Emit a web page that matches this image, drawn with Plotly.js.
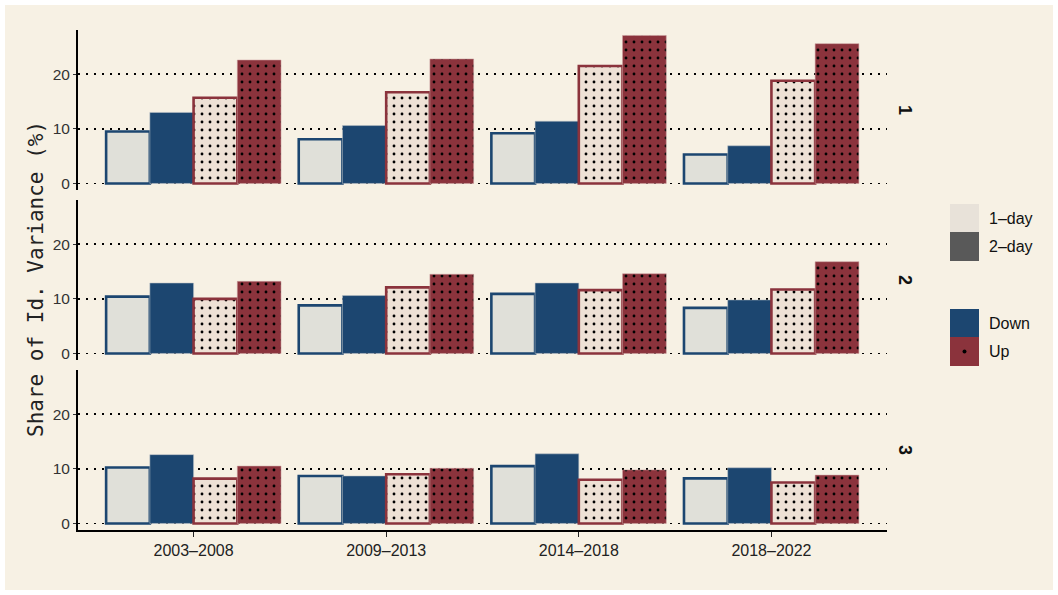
<!DOCTYPE html>
<html>
<head>
<meta charset="utf-8">
<script src="https://cdn.plot.ly/plotly-3.0.1.min.js"></script>
<style>
  html, body { margin: 0; padding: 0; background: #ffffff; }
  #chart { position: absolute; left: 5px; top: 5px; width: 1048px; height: 585px; }
</style>
</head>
<body>
<div id="chart"></div>
<script>
// ---- data ----
const periods = ['2003–2008', '2009–2013', '2014–2018', '2018–2022'];
const panels = ['1', '2', '3'];
const seriesNames = ['1-day Down', '2-day Down', '1-day Up', '2-day Up'];

const p1_down1 = [9.5, 8.1, 9.2, 5.3];
const p1_down2 = [13.0, 10.6, 11.4, 6.9];
const p1_up1   = [15.7, 16.7, 21.5, 18.8];
const p1_up2   = [22.6, 22.8, 27.1, 25.6];

const p2_down1 = [10.4, 8.8, 10.9, 8.35];
const p2_down2 = [12.9, 10.6, 12.9, 9.8];
const p2_up1   = [10.0, 12.1, 11.6, 11.7];
const p2_up2   = [13.2, 14.5, 14.6, 16.8];

const p3_down1 = [10.25, 8.7, 10.5, 8.25];
const p3_down2 = [12.6, 8.7, 12.75, 10.2];
const p3_up1   = [8.2, 9.0, 8.0, 7.5];
const p3_up2   = [10.5, 10.1, 9.8, 8.85];

const yTicks = [0, 10, 20];
const legendHorizon = ['1–day', '2–day'];
const legendDirection = ['Down', 'Up'];
const yTitle = 'Share of Id. Variance (%)';

// ---- styles ----
const BG = '#F7F1E4';
const BLUE = '#1C4670';
const RED = '#8B333C';
const LIGHT_GREY = '#E0E0D9';
const LIGHT_PINK = '#EEE1D5';

const styles = [
  { color: LIGHT_GREY, line: { color: BLUE, width: 2.6 } },
  { color: BLUE, line: { color: 'rgba(190,195,200,0.9)', width: 0.6 } },
  { color: LIGHT_PINK, line: { color: RED, width: 2.6 },
    pattern: { shape: '.', fgcolor: '#000000', bgcolor: LIGHT_PINK, size: 8, solidity: 0.1 } },
  { color: RED, line: { color: 'rgba(205,160,160,0.9)', width: 0.6 },
    pattern: { shape: '.', fgcolor: '#000000', bgcolor: RED, size: 8, solidity: 0.1 } }
];

const panelData = [
  [p1_down1, p1_down2, p1_up1, p1_up2],
  [p2_down1, p2_down2, p2_up1, p2_up2],
  [p3_down1, p3_down2, p3_up1, p3_up2]
];
const yaxisIds = ['y', 'y2', 'y3'];
const domains = [[0.68, 1], [0.34, 0.66], [0, 0.32]];

const traces = [];
panelData.forEach((series, pi) => {
  series.forEach((vals, si) => {
    const st = styles[si];
    const marker = { color: st.color, line: st.line };
    if (st.pattern) marker.pattern = st.pattern;
    traces.push({
      type: 'bar',
      name: seriesNames[si],
      x: periods,
      y: vals,
      xaxis: 'x',
      yaxis: yaxisIds[pi],
      marker: marker,
      showlegend: false,
      hoverinfo: 'x+y'
    });
  });
});

// pixel -> paper helpers (page coords; plot area x 78..887, y 30..530)
const PL = 78, PW = 809, PB = 530, PH = 500;
const px = v => (v - PL) / PW;
const py = v => (PB - v) / PH;

function yAxis(dom) {
  return {
    domain: dom,
    anchor: 'x',
    range: [-1.2, 28.1],
    tickvals: yTicks,
    ticktext: yTicks.map(String),
    showline: true,
    linecolor: '#000000',
    linewidth: 2,
    ticks: 'outside',
    ticklen: 3,
    tickwidth: 1,
    tickcolor: '#333333',
    tickfont: { family: 'Liberation Sans, Arial, sans-serif', size: 15.5, color: '#333333' },
    showgrid: true,
    gridcolor: '#000000',
    gridwidth: 1.8,
    griddash: '2px,6px',
    zeroline: false,
    fixedrange: true
  };
}

const annotations = [];
// strip labels
panels.forEach((lab, i) => {
  annotations.push({
    xref: 'paper', yref: 'paper',
    x: px(905), y: (domains[i][0] + domains[i][1]) / 2,
    text: '<b>' + lab + '</b>',
    showarrow: false, textangle: 90,
    font: { family: 'Liberation Sans, Arial, sans-serif', size: 18, color: '#111111' },
    xanchor: 'center', yanchor: 'middle'
  });
});
// y title
annotations.push({
  xref: 'paper', yref: 'paper',
  x: px(36), y: py(279),
  text: yTitle, showarrow: false, textangle: -90,
  font: { family: 'DejaVu Sans Mono, Liberation Mono, monospace', size: 21, color: '#222222' },
  xanchor: 'center', yanchor: 'middle'
});
// legend texts
const legendRows = [
  { label: legendHorizon[0], y0: 204, y1: 232, color: '#E8E2D9' },
  { label: legendHorizon[1], y0: 232, y1: 261, color: '#595959' },
  { label: legendDirection[0], y0: 309, y1: 337, color: BLUE },
  { label: legendDirection[1], y0: 337, y1: 366, color: RED }
];
const shapes = [];
legendRows.forEach(r => {
  shapes.push({
    type: 'rect', xref: 'paper', yref: 'paper',
    x0: px(950), x1: px(979), y0: py(r.y1), y1: py(r.y0),
    fillcolor: r.color, line: { width: 0 }
  });
  annotations.push({
    xref: 'paper', yref: 'paper',
    x: px(987), y: py((r.y0 + r.y1) / 2),
    text: r.label, showarrow: false,
    font: { family: 'Liberation Sans, Arial, sans-serif', size: 16, color: '#111111' },
    xanchor: 'left', yanchor: 'middle'
  });
});
// dot in Up swatch
shapes.push({
  type: 'circle', xref: 'paper', yref: 'paper',
  x0: px(962.5), x1: px(966.5), y0: py(353.5), y1: py(349.5),
  fillcolor: '#000000', line: { width: 0 }
});

const layout = {
  width: 1048, height: 585,
  margin: { l: 73, r: 166, t: 25, b: 60 },
  paper_bgcolor: BG,
  plot_bgcolor: BG,
  barmode: 'group',
  bargap: 0.092,
  bargroupgap: 0,
  showlegend: false,
  xaxis: {
    type: 'category',
    anchor: 'y3',
    range: [-0.6, 3.6],
    showline: true,
    linecolor: '#000000',
    linewidth: 2,
    ticks: 'outside',
    ticklen: 5,
    tickwidth: 1.2,
    tickcolor: '#222222',
    tickfont: { family: 'Liberation Sans, Arial, sans-serif', size: 16, color: '#222222' },
    showgrid: false,
    zeroline: false,
    fixedrange: true
  },
  yaxis: yAxis(domains[0]),
  yaxis2: yAxis(domains[1]),
  yaxis3: yAxis(domains[2]),
  annotations: annotations,
  shapes: shapes
};

Plotly.newPlot('chart', traces, layout, { displayModeBar: false, staticPlot: true });
</script>
</body>
</html>
